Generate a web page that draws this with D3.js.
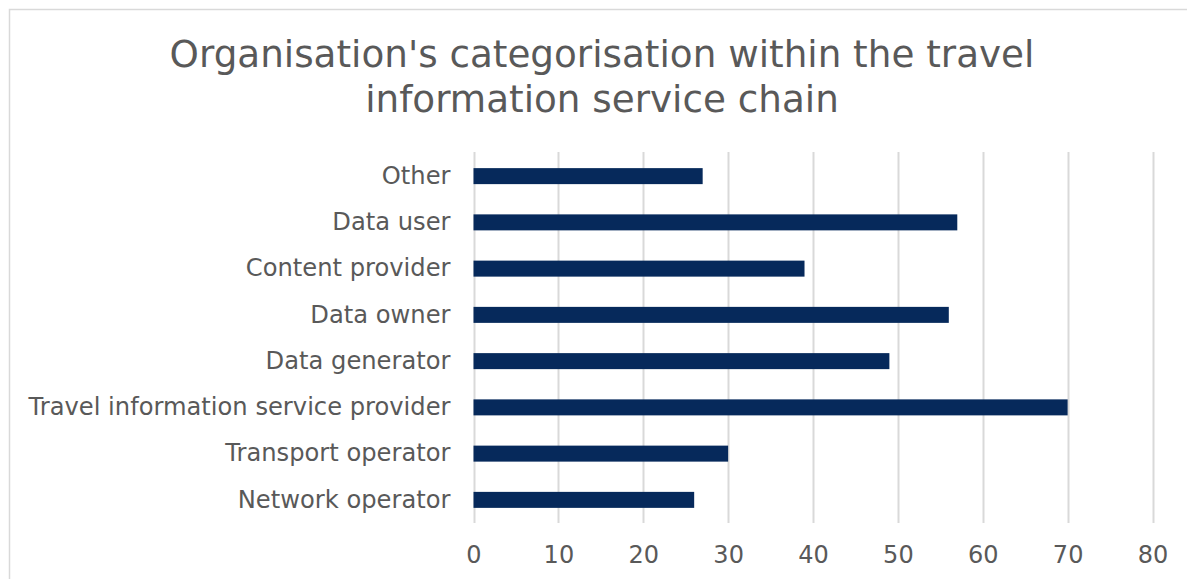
<!DOCTYPE html>
<html><head><meta charset="utf-8">
<script src="https://cdn.jsdelivr.net/npm/d3@7"></script>
<style>body{margin:0;background:#fff;}svg{display:block;}</style>
</head><body>
<script>
const categories = ["Other","Data user","Content provider","Data owner","Data generator","Travel information service provider","Transport operator","Network operator"];
const values = [27,57,39,56,49,70,30,26];
const tickValues = [0,10,20,30,40,50,60,70,80];
const titleLines = ["Organisation's categorisation within the travel","information service chain"];

(function(){
const W = 1187, H = 579;
const svg = d3.select("body").append("svg").attr("width",W).attr("height",H);
const font = "Verdana, 'DejaVu Sans', sans-serif";
const textColor = "#595959";

svg.append("rect").attr("x",9.5).attr("y",9.5).attr("width",1200).attr("height",600)
  .attr("fill","#fff").attr("stroke","#d9d9d9").attr("stroke-width",1.5);

const pLeft = 473.5, pRight = 1152.5, pTop = 153, pBottom = 523;
const x = d3.scaleLinear().domain([0,80]).range([pLeft,pRight]);
const y = d3.scaleBand().domain(categories).range([pTop,pBottom]).paddingInner(0.654).paddingOuter(0.327);

svg.append("g").selectAll("line").data(tickValues).join("line")
  .attr("x1",d=>Math.round(x(d))+0.5).attr("x2",d=>Math.round(x(d))+0.5)
  .attr("y1",pTop-1).attr("y2",pBottom)
  .attr("stroke","#d9d9d9").attr("stroke-width",2);

svg.append("g").selectAll("rect").data(categories).join("rect")
  .attr("x",x(0)).attr("y",(d)=>y(d))
  .attr("width",(d,i)=>x(values[i])-x(0)).attr("height",y.bandwidth())
  .attr("fill","#06295b");

const yAxis = d3.axisLeft(y).tickSize(0).tickPadding(23);
const gy = svg.append("g").attr("transform",`translate(${pLeft},0)`).call(yAxis);
gy.select(".domain").remove();
gy.selectAll("text").attr("font-family",font).attr("font-size",24.2).attr("fill",textColor);

const xAxis = d3.axisBottom(x).tickValues(tickValues).tickSize(0).tickPadding(23);
const gx = svg.append("g").attr("transform",`translate(0,${pBottom})`).call(xAxis);
gx.select(".domain").remove();
gx.selectAll("text").attr("font-family",font).attr("font-size",24).attr("fill",textColor);

svg.append("g").selectAll("text").data(titleLines).join("text")
  .attr("x",602).attr("y",(d,i)=>67+i*45)
  .attr("text-anchor","middle")
  .attr("font-family",font).attr("font-size",37.3).attr("fill",textColor)
  .text(d=>d);
})();
</script>
</body></html>
